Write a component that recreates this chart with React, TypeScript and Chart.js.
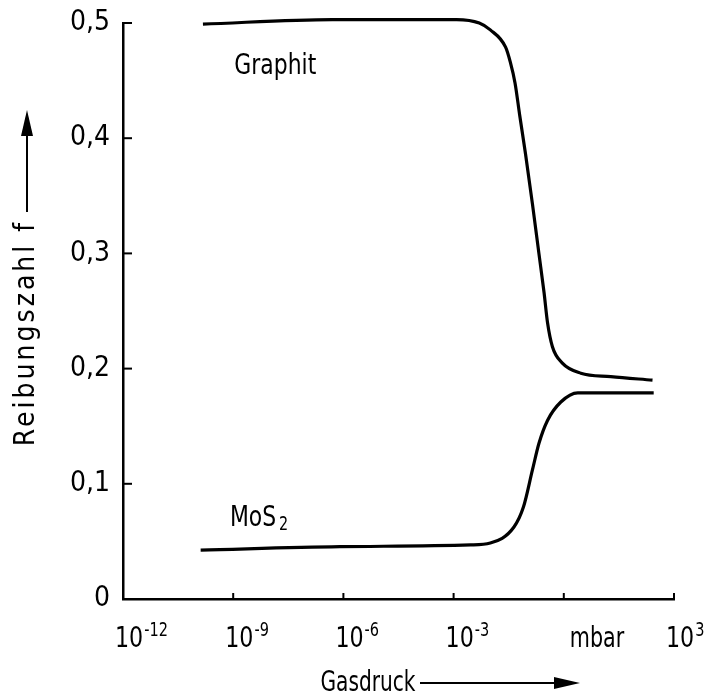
import React, { useEffect, useRef } from "react";
import { Chart, registerables } from "chart.js";

Chart.register(...registerables);

// Gas pressure in mbar (logarithmic x axis), friction coefficient on y
const graphitPressure = [1.5e-10, 5e-7, 1.2e-3, 5e-3, 1e-2, 2.6e-2, 3.5e-2, 4.7e-2, 6.3e-2, 9.1e-2, 0.14, 0.21, 0.29, 0.36, 0.49, 0.9, 2.9, 19, 260];
const graphitFriction = [0.499, 0.503, 0.503, 0.5, 0.494, 0.479, 0.466, 0.448, 0.42, 0.386, 0.343, 0.3, 0.266, 0.24, 0.219, 0.205, 0.196, 0.193, 0.19];

const mos2Pressure = [1.3e-10, 8e-7, 2.9e-3, 1e-2, 4.4e-2, 8e-2, 0.14, 0.21, 0.36, 0.83, 2.4, 280];
const mos2Friction = [0.0425, 0.0454, 0.047, 0.0486, 0.0625, 0.08, 0.112, 0.135, 0.155, 0.171, 0.179, 0.179];

const xTickValues = [1e-12, 1e-9, 1e-6, 1e-3, 1, 1e3];
const xTickExponents = ["-12", "-9", "-6", "-3", "", "3"];
const yTickLabels = ["0", "0,1", "0,2", "0,3", "0,4", "0,5"];

const unitLabel = "mbar";
const unitPosition = 8; // mbar label sits between 10^0 and 10^3
const xTitle = "Gasdruck";
const yTitle = "Reibungszahl f";
const graphitLabel = { text: "Graphit", x: 1.4e-8, y: 0.462 };
const mos2Label = { text: "MoS", sub: "2", x: 5e-9, y: 0.07 };

const FONT = '"DejaVu Sans Condensed", "Liberation Sans Narrow", sans-serif';

function squeezed(
  ctx: CanvasRenderingContext2D,
  text: string,
  x: number,
  y: number,
  font: string,
  sx: number,
  align: "left" | "center" | "right"
): number {
  ctx.save();
  ctx.font = font;
  const w = ctx.measureText(text).width * sx;
  let x0 = x;
  if (align === "center") x0 = x - w / 2;
  if (align === "right") x0 = x - w;
  ctx.translate(x0, y);
  ctx.scale(sx, 1);
  ctx.textAlign = "left";
  ctx.fillText(text, 0, 0);
  ctx.restore();
  return w;
}

const decorPlugin = {
  id: "decor",
  afterDraw(chart: any) {
    const ctx = chart.ctx as CanvasRenderingContext2D;
    const xs = chart.scales.x;
    const ys = chart.scales.y;
    const area = chart.chartArea;
    ctx.save();
    ctx.strokeStyle = "#000";
    ctx.fillStyle = "#000";
    ctx.lineWidth = 2;

    // inward tick marks on y
    for (let i = 1; i < yTickLabels.length; i++) {
      const py = ys.getPixelForValue(i * 0.1);
      ctx.beginPath();
      ctx.moveTo(area.left, py);
      ctx.lineTo(area.left + 9, py);
      ctx.stroke();
    }
    // inward tick marks on x
    for (let i = 1; i < xTickValues.length; i++) {
      const px = xs.getPixelForValue(xTickValues[i]);
      ctx.beginPath();
      ctx.moveTo(px, area.bottom);
      ctx.lineTo(px, area.bottom - 6);
      ctx.stroke();
    }

    // x tick labels: 10 with raised exponent
    ctx.textBaseline = "alphabetic";
    const baseY = area.bottom + 48;
    xTickValues.forEach((v, i) => {
      const exp = xTickExponents[i];
      if (!exp) return;
      const px = xs.getPixelForValue(v) - 8;
      const w = squeezed(ctx, "10", px, baseY, `29px ${FONT}`, 0.85, "left");
      squeezed(ctx, exp, px + w + 1, baseY - 11, `19px ${FONT}`, 0.85, "left");
    });
    squeezed(ctx, unitLabel, xs.getPixelForValue(unitPosition), baseY, `28px ${FONT}`, 0.82, "center");

    // series labels
    ctx.textBaseline = "middle";
    squeezed(
      ctx,
      graphitLabel.text,
      xs.getPixelForValue(graphitLabel.x),
      ys.getPixelForValue(graphitLabel.y),
      `29px ${FONT}`,
      0.84,
      "center"
    );
    const mx = xs.getPixelForValue(mos2Label.x);
    const my = ys.getPixelForValue(mos2Label.y);
    const mw = squeezed(ctx, mos2Label.text, mx - 29, my, `29px ${FONT}`, 0.84, "left");
    squeezed(ctx, mos2Label.sub, mx - 29 + mw + 3, my + 7, `19px ${FONT}`, 0.84, "left");

    // x axis title with arrow
    ctx.textBaseline = "alphabetic";
    squeezed(ctx, xTitle, 368, 691, `28px ${FONT}`, 0.8, "center");
    ctx.beginPath();
    ctx.moveTo(420, 683);
    ctx.lineTo(562, 683);
    ctx.stroke();
    ctx.beginPath();
    ctx.moveTo(580, 683);
    ctx.lineTo(554, 677);
    ctx.lineTo(554, 689);
    ctx.closePath();
    ctx.fill();

    // y axis title with arrow
    ctx.save();
    ctx.translate(27, 333);
    ctx.rotate(-Math.PI / 2);
    ctx.font = `28px ${FONT}`;
    (ctx as any).letterSpacing = "3px";
    ctx.textAlign = "center";
    ctx.textBaseline = "middle";
    ctx.fillText(yTitle, 0, 0);
    ctx.restore();
    ctx.beginPath();
    ctx.moveTo(27, 212);
    ctx.lineTo(27, 128);
    ctx.stroke();
    ctx.beginPath();
    ctx.moveTo(27, 110);
    ctx.lineTo(21, 136);
    ctx.lineTo(33, 136);
    ctx.closePath();
    ctx.fill();

    ctx.restore();
  },
};

export default function App() {
  const ref = useRef<HTMLCanvasElement | null>(null);
  useEffect(() => {
    if (!ref.current) return;
    const chart = new Chart(ref.current, {
      type: "line",
      data: {
        datasets: [
          {
            label: "Graphit",
            data: graphitPressure.map((p, i) => ({ x: p, y: graphitFriction[i] })),
            borderColor: "#000",
            borderWidth: 3.2,
            pointRadius: 0,
            cubicInterpolationMode: "monotone",
            fill: false,
            clip: false,
          },
          {
            label: "MoS2",
            data: mos2Pressure.map((p, i) => ({ x: p, y: mos2Friction[i] })),
            borderColor: "#000",
            borderWidth: 3.2,
            pointRadius: 0,
            cubicInterpolationMode: "monotone",
            fill: false,
            clip: false,
          },
        ],
      },
      options: {
        animation: false,
        responsive: false,
        maintainAspectRatio: false,
        layout: { padding: { top: 23, right: 41, left: 0, bottom: 0 } },
        plugins: { legend: { display: false }, tooltip: { enabled: false } },
        scales: {
          x: {
            type: "logarithmic",
            min: 1e-12,
            max: 1e3,
            grid: { display: false, drawTicks: false },
            border: { display: true, color: "#000", width: 2.5 },
            ticks: { display: false },
            afterFit: (s: any) => {
              s.height = 100;
              s.paddingLeft = 0;
              s.paddingRight = 0;
            },
          },
          y: {
            type: "linear",
            min: 0,
            max: 0.5,
            grid: { display: false, drawTicks: false },
            border: { display: true, color: "#000", width: 2.5 },
            ticks: {
              stepSize: 0.1,
              color: "#000",
              padding: 13,
              font: { family: FONT, size: 28 },
              callback: (_v: any, i: number) => yTickLabels[i],
            },
            afterFit: (s: any) => {
              s.width = 123;
              s.paddingTop = 0;
              s.paddingBottom = 0;
            },
          },
        },
      },
      plugins: [decorPlugin],
    } as any);
    return () => chart.destroy();
  }, []);
  return (
    <div style={{ position: "absolute", left: 0, top: 0, width: 715, height: 699, background: "#fff" }}>
      <canvas ref={ref} width={715} height={699} style={{ display: "block" }} />
    </div>
  );
}
